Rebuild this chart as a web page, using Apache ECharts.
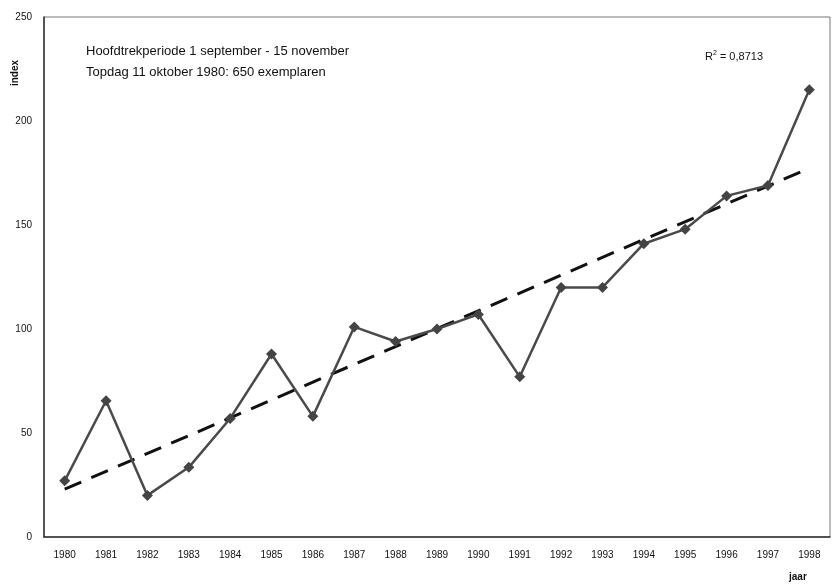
<!DOCTYPE html>
<html>
<head>
<meta charset="utf-8">
<script src="https://cdn.jsdelivr.net/npm/echarts@6/dist/echarts.min.js"></script>
<style>
html,body{margin:0;padding:0;background:#fff;}
#chart{width:832px;height:585px;}
</style>
</head>
<body>
<div id="chart"></div>
<script>
var years = ['1980','1981','1982','1983','1984','1985','1986','1987','1988','1989','1990','1991','1992','1993','1994','1995','1996','1997','1998'];
var indexValues = [27, 65.5, 20, 33.5, 57, 88, 58, 101, 94, 100, 107, 77, 120, 120, 141, 148, 164, 169, 215];
var trendStart = 23;
var trendEnd = 177.3;
var yTicks = [0, 50, 100, 150, 200, 250];

var trendData = years.map(function (y, i) {
  if (i === 0) return trendStart;
  if (i === years.length - 1) return trendEnd;
  return null;
});

var chart = echarts.init(document.getElementById('chart'), null, {renderer: 'canvas'});
chart.setOption({
  animation: false,
  backgroundColor: '#ffffff',
  textStyle: {fontFamily: 'Liberation Sans, Arial, sans-serif'},
  grid: {left: 44, right: 2, top: 17, bottom: 48, show: true, borderColor: '#777', borderWidth: 1},
  xAxis: {
    type: 'category',
    data: years,
    boundaryGap: true,
    axisLine: {lineStyle: {color: '#333', width: 1.5}},
    axisTick: {show: false},
    axisLabel: {color: '#111', fontSize: 10, margin: 13}
  },
  yAxis: {
    type: 'value',
    min: yTicks[0],
    max: yTicks[yTicks.length - 1],
    interval: 50,
    axisLine: {show: true, lineStyle: {color: '#333', width: 1.5}},
    axisTick: {show: false},
    splitLine: {show: false},
    axisLabel: {color: '#111', fontSize: 10, margin: 12}
  },
  graphic: [
    {type: 'text', left: 10, top: 60, rotation: Math.PI / 2, style: {text: 'index', fontSize: 10, fontWeight: 'bold', fill: '#111', fontFamily: 'Liberation Sans, Arial, sans-serif'}},
    {type: 'text', left: 789, top: 572, style: {text: 'jaar', fontSize: 10, fontWeight: 'bold', fill: '#111', fontFamily: 'Liberation Sans, Arial, sans-serif'}},
    {type: 'text', left: 86, top: 45, style: {text: 'Hoofdtrekperiode 1 september - 15 november', fontSize: 13, fill: '#111', fontFamily: 'Liberation Sans, Arial, sans-serif'}},
    {type: 'text', left: 86, top: 66, style: {text: 'Topdag 11 oktober 1980: 650 exemplaren', fontSize: 13, fill: '#111', fontFamily: 'Liberation Sans, Arial, sans-serif'}},
    {type: 'text', left: 705, top: 50, style: {
      text: '{r|R}{s|2}{r| = 0,8713}',
      rich: {
        r: {fontSize: 11, fill: '#111', fontFamily: 'Liberation Sans, Arial, sans-serif', verticalAlign: 'bottom'},
        s: {fontSize: 7, fill: '#111', fontFamily: 'Liberation Sans, Arial, sans-serif', verticalAlign: 'top', padding: [0, 0, 5, 0]}
      }
    }}
  ],
  series: [
    {
      name: 'trend',
      type: 'line',
      data: trendData,
      connectNulls: true,
      symbol: 'none',
      z: 3,
      lineStyle: {color: '#111', width: 3, type: [18, 11]}
    },
    {
      name: 'index',
      type: 'line',
      data: indexValues,
      symbol: 'diamond',
      symbolSize: 11,
      z: 4,
      itemStyle: {color: '#444'},
      lineStyle: {color: '#4a4a4a', width: 2.5}
    }
  ]
});
</script>
</body>
</html>
